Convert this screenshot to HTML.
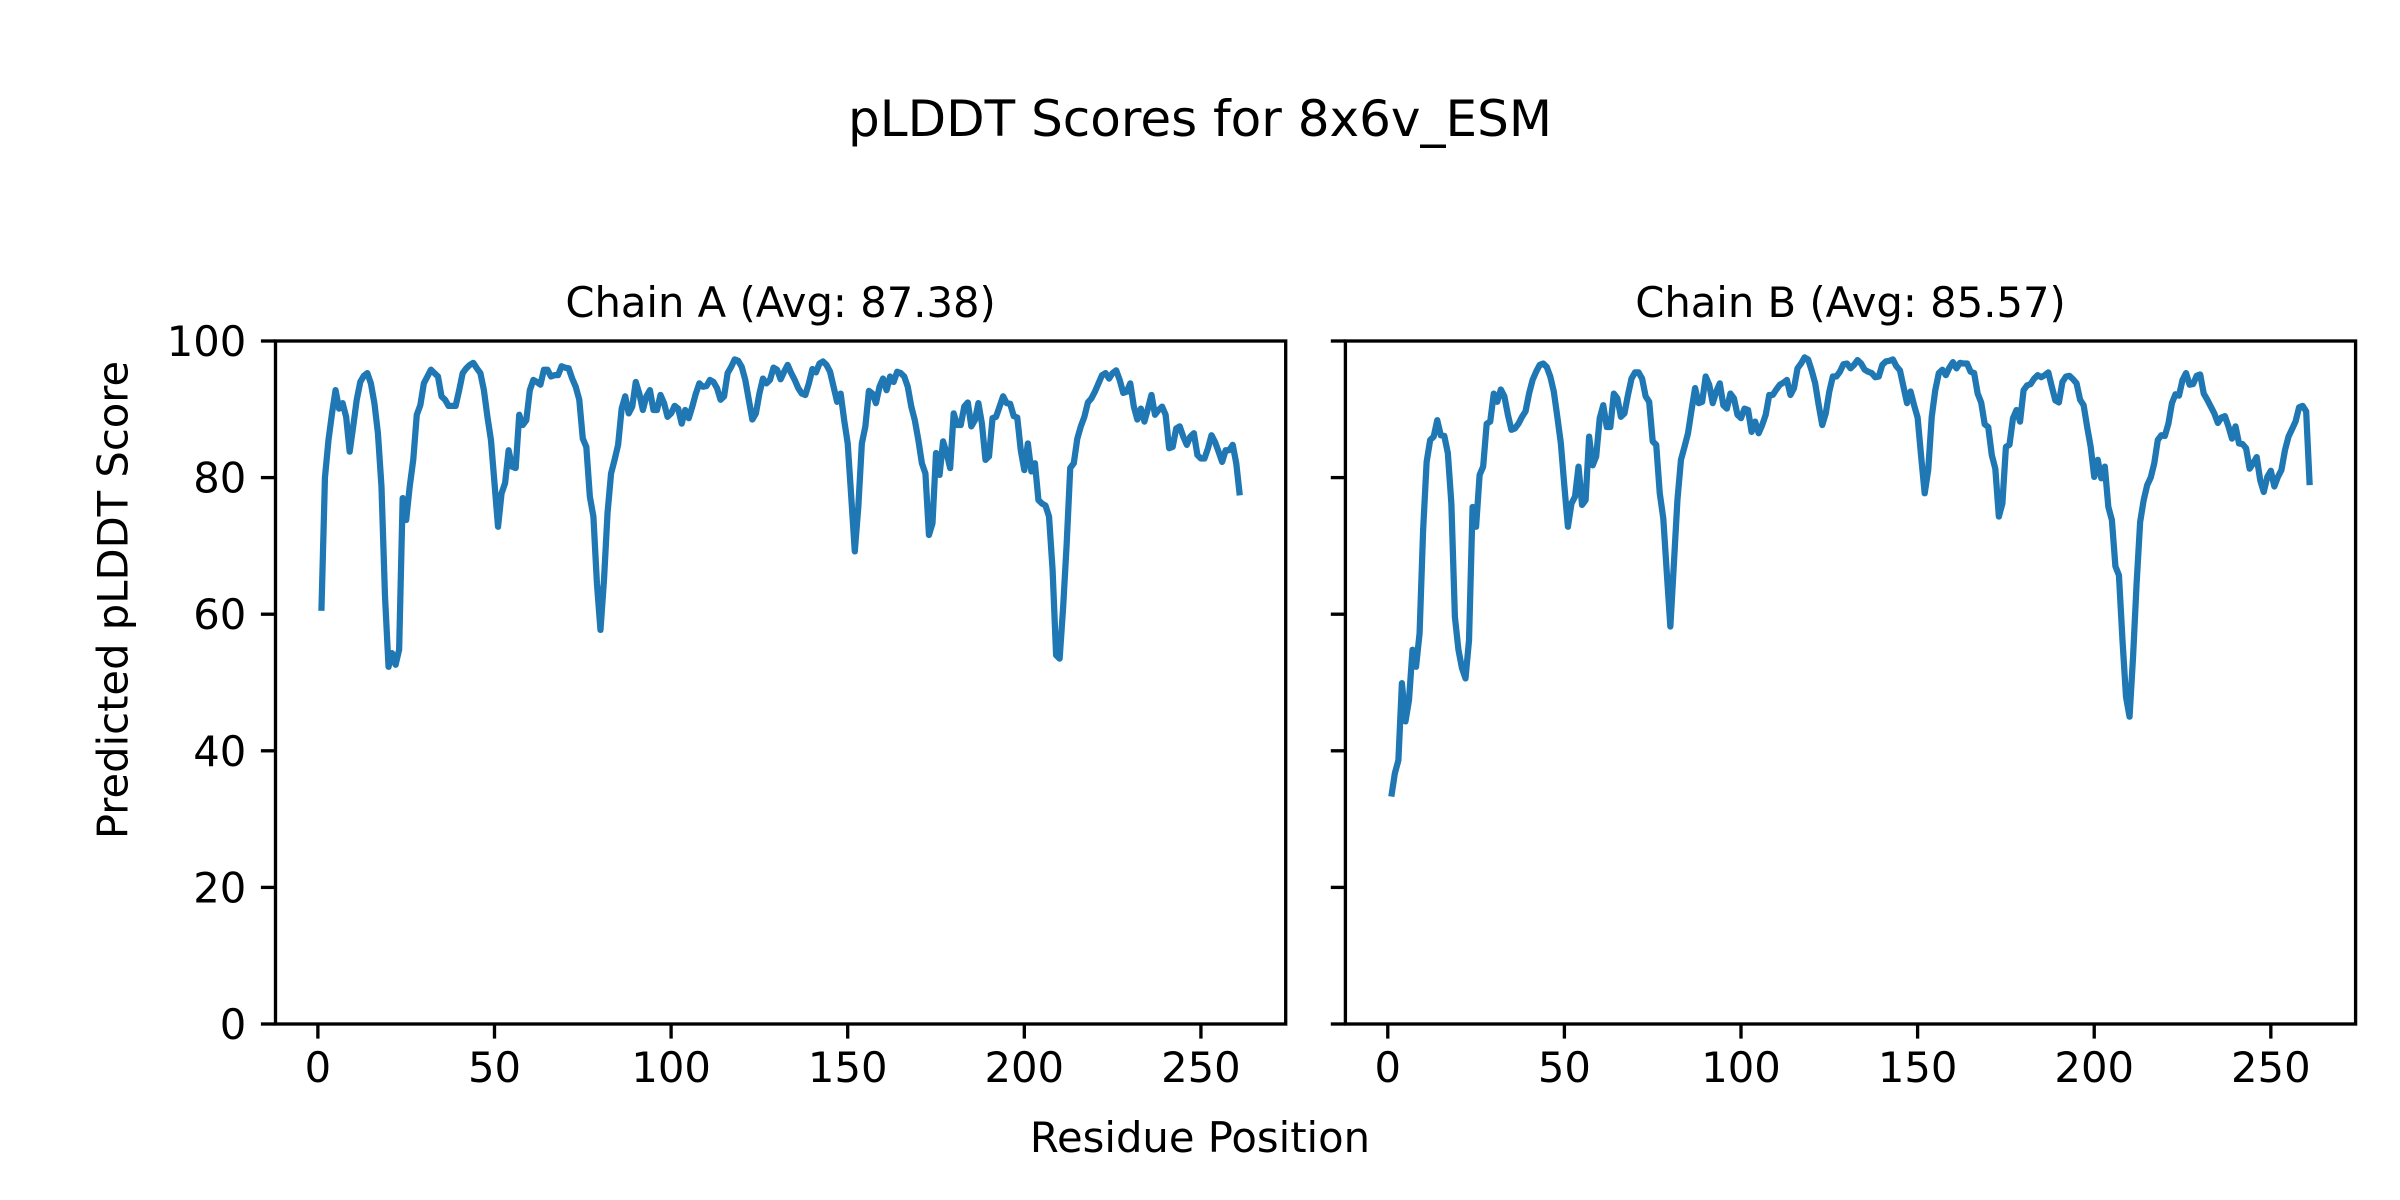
<!DOCTYPE html>
<html><head><meta charset="utf-8"><title>pLDDT Scores for 8x6v_ESM</title>
<style>
html,body{margin:0;padding:0;background:#fff;width:2400px;height:1200px;overflow:hidden;}
svg{display:block;font-family:"DejaVu Sans","Liberation Sans",sans-serif;}
</style></head>
<body>
<svg id="fig" width="2400" height="1200" viewBox="0 0 2400 1200" xmlns="http://www.w3.org/2000/svg">
<rect width="2400" height="1200" fill="#fff"/>
<text x="1200" y="136" font-size="50" text-anchor="middle" fill="#000">pLDDT Scores for 8x6v_ESM</text>
<text x="1200" y="1152" font-size="41.7" text-anchor="middle" fill="#000">Residue Position</text>
<text x="113" y="600" font-size="41.7" text-anchor="middle" dominant-baseline="central" transform="rotate(-90 113 600)" fill="#000">Predicted pLDDT Score</text>
</svg>
<script>
const chainATitle = "Chain A (Avg: 87.38)";
const chainBTitle = "Chain B (Avg: 85.57)";
const xTicks = [0, 50, 100, 150, 200, 250];
const yTicks = [0, 20, 40, 60, 80, 100];
const chainA = [60.5,80,85.5,89.4,92.8,90.1,90.9,88.9,83.8,87.5,91.4,94,94.9,95.3,93.8,90.9,86.5,78.7,62.6,52.3,
54.3,52.6,54.8,77,73.8,78.7,82.6,89.2,90.6,93.8,94.8,95.8,95.3,94.8,91.9,91.4,90.5,90.5,90.5,92.8,
95.3,96,96.5,96.8,96,95.3,92.8,88.9,85.5,79.2,72.8,77.7,79.2,84,81.6,81.4,89.2,87.7,88.4,92.8,
94.3,94,93.6,95.8,95.8,94.8,95,95,96.3,96.1,96,94.5,93.3,91.4,85.7,84.5,77.2,74.3,64.5,57.7,
65,74.8,80.6,82.6,84.8,90.1,91.9,89.4,90.4,94,92.3,89.9,91.9,92.8,89.9,89.9,92.1,90.9,88.9,89.4,
90.5,90.1,87.9,89.9,88.7,90.4,92.3,93.8,93.3,93.4,94.3,94,93.1,91.4,91.9,95.3,96.2,97.3,97.1,96.2,
94.3,91.4,88.5,89.4,92.3,94.5,93.8,94.3,96.1,95.8,94.4,95.5,96.5,95.3,94.3,93.1,92.3,92.1,93.8,95.9,
95.4,96.7,97,96.5,95.5,93.3,91.1,92.3,88.4,85,77.2,69.2,75.7,85,87.5,92.7,92.3,90.9,93.3,94.5,
92.8,94.8,94,95.5,95.3,94.8,93.3,90.4,88.4,85.5,82.1,80.6,71.6,73.3,83.6,80.4,85.3,83.6,81.4,89.4,
87.7,87.7,90.4,91,87.5,88.4,90.9,87.9,82.6,83.1,88.7,88.9,90.4,91.9,90.9,90.8,89,88.8,84,81.1,
85,80.9,82.1,76.7,76.2,75.9,74.3,66.5,54,53.5,61.1,70.4,81.4,82.1,85.7,87.5,88.9,91,91.6,92.6,
93.8,95,95.3,94.5,95.3,95.7,94.3,92.4,92.6,93.8,90.4,88.5,90.1,88.2,90.1,92.1,89.2,89.9,90.4,89.2,
84.3,84.5,87.2,87.5,86,84.8,86,86.5,83.3,82.8,82.8,84.3,86.2,85.2,83.8,82.3,84,84,84.8,82.1,77.4];
const chainB = [33.3,36.7,38.6,49.9,44.3,47.4,54.8,52.3,57.2,72.3,82.3,85.5,86,88.4,86.2,86.1,83.6,76.2,59.6,54.8,
52.1,50.6,56.2,75.7,72.8,80.4,81.6,87.9,88.2,92.3,91.1,92.9,91.9,89.2,87,87.2,87.9,88.9,89.7,92.3,
94.3,95.5,96.5,96.7,96.2,94.8,92.6,88.9,85,78.7,72.8,76.2,77.2,81.6,76,76.7,86,81.8,83.1,88.7,
90.6,87.4,87.4,92.3,91.6,88.9,89.4,92.1,94.5,95.4,95.4,94.5,91.9,91.1,85.3,84.8,77.7,74,66,58.2,
67.4,76.7,82.6,84.5,86.5,89.9,93.1,90.9,91.1,94.8,93.6,90.9,92.6,93.8,90.6,90.1,92.3,91.6,89.2,88.7,
90.1,89.9,86.7,88.2,86.5,87.7,89.2,92.1,92.1,92.9,93.6,93.9,94.3,92.1,93.1,96,96.7,97.6,97.3,95.7,
93.8,90.6,87.7,89.4,92.6,94.8,94.8,95.5,96.6,96.7,96,96.5,97.2,96.7,95.8,95.5,95.3,94.7,94.8,96.5,
97,97.1,97.3,96.3,95.7,93.3,90.9,92.6,90.6,88.8,83.1,77.7,81.1,88.9,92.8,95.3,95.8,95,96.1,96.9,
96,96.8,96.7,96.7,95.5,95.3,92.3,91,87.8,87.4,83.3,81.3,74.3,76.2,84.5,84.8,88.7,89.9,88.2,92.8,
93.5,93.7,94.5,95,94.7,95,95.4,93.3,91.3,91,94,94.8,94.9,94.4,93.8,91.4,90.6,87.4,84.5,80.1,
82.6,79.9,81.6,75.7,73.8,67,65.7,56.2,47.9,45,53.8,64.5,73.5,76.7,78.9,80,82.1,85.5,86.2,86.1,
87.9,90.9,92.2,92,94.3,95.3,93.6,93.7,94.9,95.1,92.3,91.4,90.4,89.4,88,88.8,89,87.5,85.7,87.5,
85,84.9,84.3,81.3,82.1,83,79.6,77.9,80.1,81,78.7,80.1,81.1,84,86,87.1,88.2,90.3,90.5,89.7,78.9];

const NS = "http://www.w3.org/2000/svg";
const svg = document.getElementById('fig');
const TOP = 341, BOT = 1024;
const XMIN = -12, XMAX = 274;
function mk(tag, attrs, parent){
  const e = document.createElementNS(NS, tag);
  for (const k in attrs) e.setAttribute(k, attrs[k]);
  (parent||svg).appendChild(e);
  return e;
}
function drawPanel(left, right, values, title, showYLabels, key){
  const xs = v => left + (v - XMIN) / (XMAX - XMIN) * (right - left);
  const ys = v => BOT - v / 100 * (BOT - TOP);
  const g = document.createElementNS(NS, 'g');
  
  
  svg.appendChild(g);
  const pts = values.map((v, i) => xs(i + 1).toFixed(2) + ',' + ys(v).toFixed(2)).join(' ');
  const line = mk('polyline', {points: pts, fill: 'none', stroke: '#1f77b4', 'stroke-width': 6.25, 'stroke-linejoin': 'round', 'stroke-linecap': 'butt'}, g);
  
  
  const frame = mk('rect', {x: left, y: TOP, width: right - left, height: BOT - TOP, fill: 'none', stroke: '#000', 'stroke-width': 3.33}, g);
  
  
  xTicks.forEach(t => {
    const x = xs(t);
    const tk = mk('line', {x1: x, x2: x, y1: BOT, y2: BOT + 14.6, stroke: '#000', 'stroke-width': 3.33}, g);
    
    
    const lb = mk('text', {x: x, y: 1082, 'font-size': 41.7, 'text-anchor': 'middle', fill: '#000'}, g);
    
    
    lb.textContent = t;
  });
  yTicks.forEach(t => {
    const y = ys(t);
    const tk = mk('line', {x1: left - 14.6, x2: left, y1: y, y2: y, stroke: '#000', 'stroke-width': 3.33}, g);
    
    
    if (showYLabels) {
      const lb = mk('text', {x: left - 29.2, y: y + 15, 'font-size': 41.7, 'text-anchor': 'end', fill: '#000'}, g);
      
      
      lb.textContent = t;
    }
  });
  const tt = mk('text', {x: (left + right) / 2, y: 317, 'font-size': 41.7, 'text-anchor': 'middle', fill: '#000'}, g);
  
  
  tt.textContent = title;
}
drawPanel(275.5, 1285.7, chainA, chainATitle, true, 'chain-a');
drawPanel(1345.4, 2355.6, chainB, chainBTitle, false, 'chain-b');
</script>
</body></html>
